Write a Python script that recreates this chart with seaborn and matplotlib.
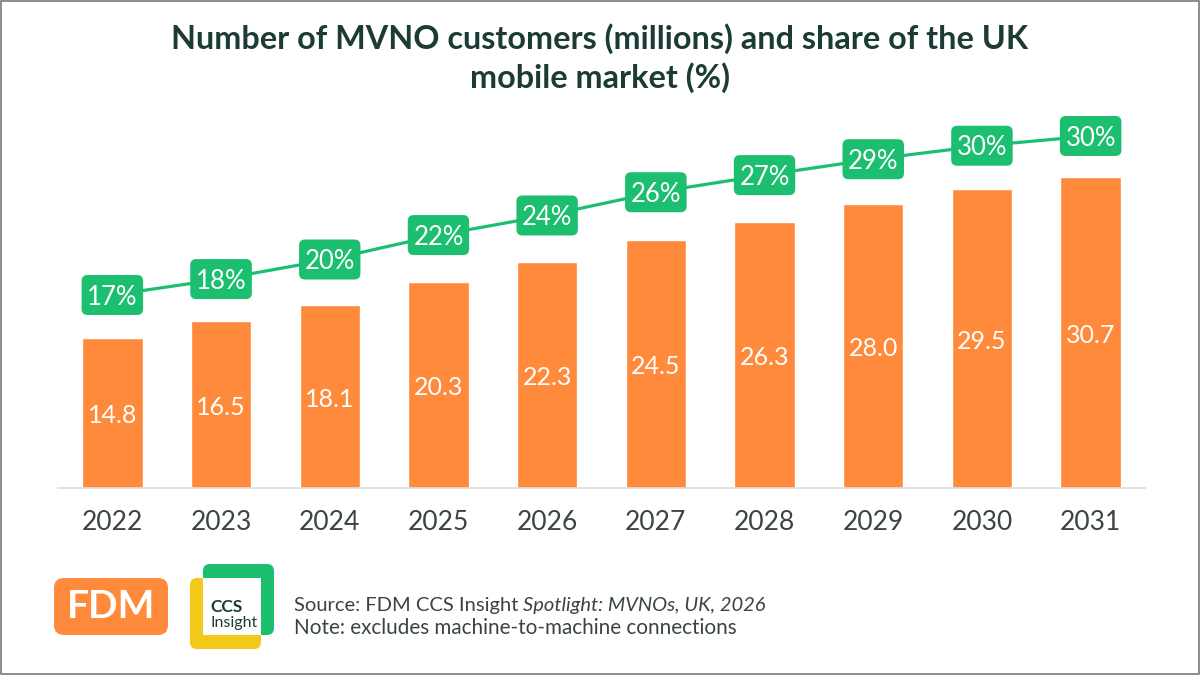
#!/usr/bin/env python3

import matplotlib
matplotlib.use('Agg')
import matplotlib.pyplot as plt
from matplotlib.patches import FancyBboxPatch, Rectangle
from matplotlib.transforms import Affine2D
import pandas as pd
import seaborn as sns

years = ['2022', '2023', '2024', '2025', '2026', '2027', '2028', '2029', '2030', '2031']
customers = [14.8, 16.5, 18.1, 20.3, 22.3, 24.5, 26.3, 28.0, 29.5, 30.7]
# line sits a little off the rounded labels
share = [17.0, 18.3, 19.9, 21.9, 23.5, 25.4, 26.8, 28.1, 29.2, 30.0]
share_labels = ['17%', '18%', '20%', '22%', '24%', '26%', '27%', '29%', '30%', '30%']

ORANGE = '#FF8A3C'
GREEN = '#1CBF70'
YELLOW = '#F2C919'
DARK = '#1C3B34'
GREY = '#3A4440'

sns.set_theme(style='white')
plt.rcParams['font.family'] = ['Lato', 'DejaVu Sans']

df = pd.DataFrame({'year': years, 'customers': customers, 'share': share})

W, H = 1200, 675
fig = plt.figure(figsize=(12, 6.75), dpi=100)


def fig_box(x0, y0, x1, y1):
    # pixel box (top-left origin) to figure fractions
    return [x0 / W, 1 - y1 / H, (x1 - x0) / W, (y1 - y0) / H]


ax = fig.add_axes(fig_box(58, 100, 1145, 488))
sns.barplot(df, x='year', y='customers', ax=ax, color=ORANGE, saturation=1, width=0.555)
ax.set_xlim(-0.5, 9.5)
ax.set_ylim(0, 38.3)
ax.set_xlabel('')
ax.set_ylabel('')
ax.set_yticks([])
ax.tick_params(axis='x', length=0, pad=16, labelsize=19, labelcolor=GREY)
sns.despine(ax=ax, left=True)
ax.spines['bottom'].set_color('#DDDDDD')
ax.spines['bottom'].set_linewidth(1.2)
ax.bar_label(ax.containers[0], labels=[f'{v:.1f}' for v in customers],
             label_type='center', color='white', fontsize=18, padding=-2)

ax2 = ax.twinx()
sns.lineplot(df, x='year', y='share', ax=ax2, color=GREEN, linewidth=2.3, sort=False)
ax2.set_ylim(1.22, 32.94)
ax2.set_xlabel('')
ax2.set_ylabel('')
ax2.set_yticks([])
ax2.patch.set_alpha(0)
sns.despine(ax=ax2, left=True, right=True, bottom=True)

# boxes are wider than tall padding allows on a text bbox, so draw them in pixels
fig.canvas.draw()
renderer = fig.canvas.get_renderer()
for i, (v, lab) in enumerate(zip(share, share_labels)):
    t = ax2.annotate(lab, (i, v), xytext=(0, -1.5), textcoords='offset points', ha='center', va='center',
                     color='white', fontsize=18.5, zorder=4)
    w = t.get_window_extent(renderer).width + 11
    px, py = ax2.transData.transform((i, v))
    ax2.add_patch(FancyBboxPatch((-w / 2 + 6, -14), w - 12, 28, boxstyle='round,pad=6,rounding_size=6',
                                 fc=GREEN, ec='none', zorder=3,
                                 transform=Affine2D().translate(px, py)))

fig.text(600 / W, 1 - 58.5 / H, 'Number of MVNO customers (millions) and share of the UK\nmobile market (%)',
         ha='center', va='center', fontsize=23.3, fontweight='bold', color=DARK, linespacing=1.33)

# logos drawn in a full-figure pixel axes
logo = fig.add_axes([0, 0, 1, 1], zorder=5)
logo.set_xlim(0, W)
logo.set_ylim(H, 0)
logo.axis('off')


def rbox(x0, y0, x1, y1, r, color):
    logo.add_patch(FancyBboxPatch((x0 + r, y0 + r), x1 - x0 - 2 * r, y1 - y0 - 2 * r,
                                  boxstyle=f'round,pad={r},rounding_size={r}', fc=color, ec='none'))


rbox(54, 578, 168, 635, 10, ORANGE)
logo.text(111, 607, 'FDM', color='white', ha='center', va='center', fontsize=28, fontweight='bold')
rbox(190, 578, 261, 649, 7, YELLOW)
rbox(203, 564, 274, 635, 7, GREEN)
logo.add_patch(Rectangle((203, 578), 58, 57, fc='white', ec='none'))
logo.text(210, 607, 'CCS', color=DARK, ha='left', va='center', fontsize=12.5, fontweight='bold')
logo.text(210, 623, 'Insight', color=DARK, ha='left', va='center', fontsize=11.5)

t = logo.text(294, 606, 'Source: FDM CCS Insight', color=GREY, ha='left', va='center', fontsize=14.5)
fig.canvas.draw()
x_end = t.get_window_extent().x1
logo.text(x_end + 5, 606, 'Spotlight: MVNOs, UK, 2026', color=GREY, ha='left', va='center',
          fontsize=14.5, style='italic')
logo.text(294, 628, 'Note: excludes machine-to-machine connections', color=GREY, ha='left',
          va='center', fontsize=14.9)

# thin grey frame round the edge of the source image
logo.add_patch(Rectangle((0.75, 0.75), W - 1.5, H - 1.5, fc='none', ec='#6E6E6E', lw=1.1))

plt.savefig('out.png', dpi=100)
